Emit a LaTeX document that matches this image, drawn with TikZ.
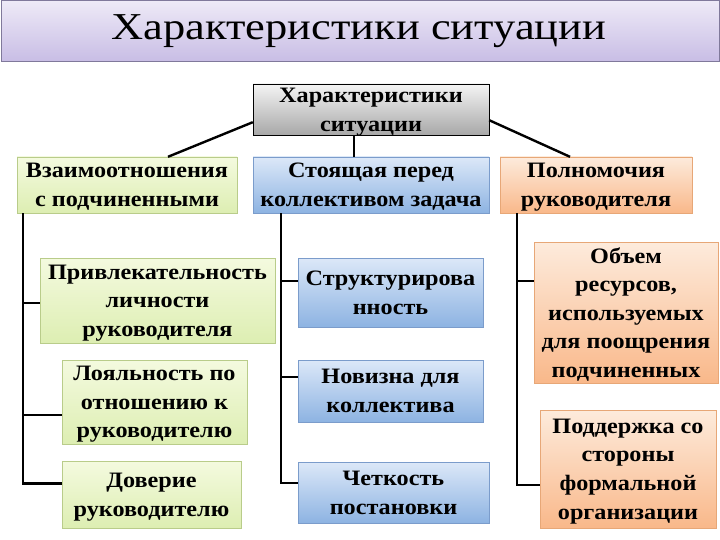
\documentclass[tikz,border=0pt]{standalone}
\usepackage{fontspec}
\setmainfont{Liberation Serif}
\newfontfamily\boxfont{Liberation Serif}[FakeStretch=1.1]
\newfontfamily\titlefont{Liberation Serif}[FakeStretch=1.17]
\usetikzlibrary{calc}
\definecolor{grnT}{HTML}{F4FADF}
\definecolor{grnB}{HTML}{DDEEB2}
\definecolor{grnD}{HTML}{B9CC8A}
\definecolor{bluT}{HTML}{DCE8F8}
\definecolor{bluB}{HTML}{8DB3E2}
\definecolor{bluD}{HTML}{7B9CCB}
\definecolor{orgT}{HTML}{FDEBDC}
\definecolor{orgB}{HTML}{F9B88A}
\definecolor{orgD}{HTML}{E7A777}
\definecolor{gryT}{HTML}{F4F4F4}
\definecolor{gryB}{HTML}{A8A8A8}
\definecolor{titT}{HTML}{EEEAF7}
\definecolor{titB}{HTML}{C8BDE5}
\definecolor{titD}{HTML}{80799B}
\tikzset{
  box/.style={rectangle, inner sep=0pt, align=center, font=\boxfont\fontsize{22}{28.6}\selectfont\bfseries, text=black, text depth=-9pt},
  gbox/.style={box, draw=grnD, top color=grnT, bottom color=grnB},
  bbox/.style={box, draw=bluD, top color=bluT, bottom color=bluB},
  obox/.style={box, draw=orgD, top color=orgT, bottom color=orgB},
  kbox/.style={box, draw=black, top color=gryT, bottom color=gryB},
  conn/.style={line width=2.4pt, black}
}
\begin{document}
\begin{tikzpicture}[x=1pt,y=-1pt]
\useasboundingbox (0,0) rectangle (720,540);
\node[rectangle, draw=titD, line width=1pt, top color=titT, bottom color=titB, minimum width=718, minimum height=61, inner sep=0pt] (title) at (360,31) {};
\node[font=\titlefont\fontsize{38}{38}\selectfont, anchor=base] (ttext) at (359,40) {Характеристики ситуации};
\node[kbox, minimum width=236, minimum height=51] (top) at (371,109.5) {Характеристики\\ситуации};
\node[gbox, minimum width=220, minimum height=56] (L0) at (127,185) {Взаимоотношения\\с подчиненными};
\node[bbox, minimum width=236, minimum height=56] (M0) at (371,185) {Стоящая перед\\коллективом задача};
\node[obox, minimum width=192, minimum height=56, text depth=-10pt] (R0) at (596,185) {Полномочия\\руководителя};
\node[gbox, minimum width=235, minimum height=85, text depth=-10pt] (L1) at (157.5,300.5) {Привлекательность\\личности\\руководителя};
\node[gbox, minimum width=185, minimum height=84, text depth=-10pt] (L2) at (154.5,402) {Лояльность по\\отношению к\\руководителю};
\node[gbox, minimum width=179, minimum height=67] (L3) at (151.5,494.5) {Доверие\\руководителю};
\node[bbox, minimum width=185, minimum height=69, text depth=-22pt] (M1) at (390.5,292.5) {Структурирова\\нность};
\node[bbox, minimum width=185, minimum height=62, text depth=-12pt] (M2) at (390.5,391) {Новизна для\\коллектива};
\node[bbox, minimum width=191, minimum height=61, text depth=-6pt] (M3) at (393.5,492.5) {Четкость\\постановки};
\node[obox, minimum width=184, minimum height=141, text depth=-5pt] (R1) at (626,312.5) {Объем\\ресурсов,\\используемых\\для поощрения\\подчиненных};
\node[obox, minimum width=176, minimum height=118, text depth=-3pt] (R2) at (628,469) {Поддержка со\\стороны\\формальной\\организации};
% top connectors
\draw[conn] ($(top.south west)+(0,-13)$) -- ($(L0.north)+(41,0)$);
\draw[conn] ($(top.south east)+(0,-15)$) -- ($(R0.north)+(-26,0)$);
\draw[conn] ($(top.south)+(-17,0)$) -- ($(M0.north)+(-17,0)$);
% left trunk
\coordinate (lt) at ($(L0.south west)+(6,0)$);
\draw[conn] (lt) |- ($(L3.west)+(0,-11)$);
\draw[conn] (lt |- {$(L1.west)+(0,2.5)$}) -- ($(L1.west)+(0,2.5)$);
\draw[conn] (lt |- {$(L2.west)+(0,13)$}) -- ($(L2.west)+(0,13)$);
% middle trunk
\coordinate (mt) at ($(M0.south west)+(28,0)$);
\draw[conn] (mt) |- ($(M3.west)+(0,-9.5)$);
\draw[conn] (mt |- {$(M1.west)+(0,-11.5)$}) -- ($(M1.west)+(0,-11.5)$);
\draw[conn] (mt |- {$(M2.west)+(0,-14)$}) -- ($(M2.west)+(0,-14)$);
% right trunk
\coordinate (rt) at ($(R0.south west)+(17,0)$);
\draw[conn] (rt) |- ($(R2.west)+(0,16)$);
\draw[conn] (rt |- {$(R1.west)+(0,-31.5)$}) -- ($(R1.west)+(0,-31.5)$);
\end{tikzpicture}
\end{document}
